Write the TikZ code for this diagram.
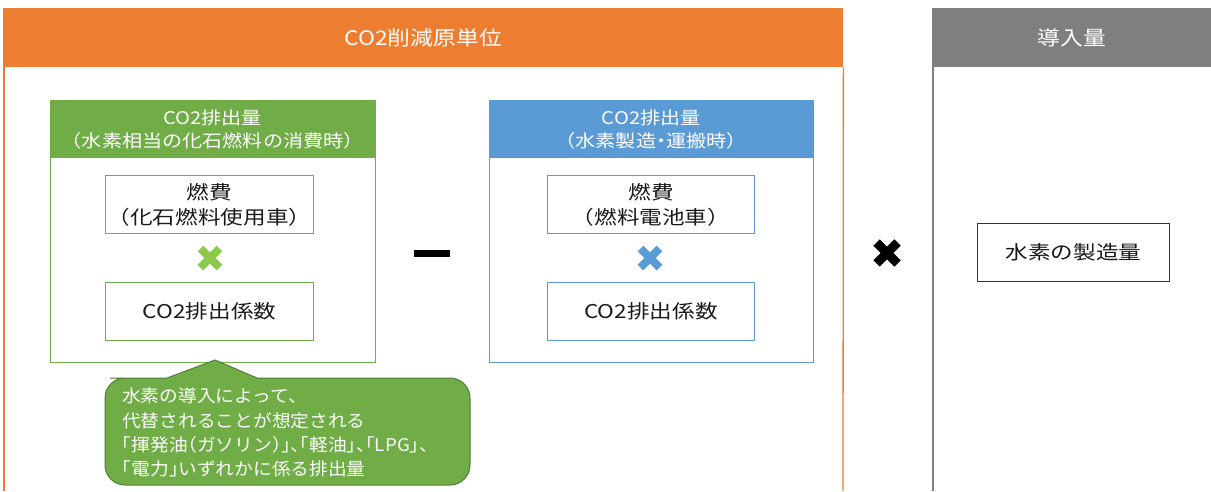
\documentclass[tikz,border=0pt]{standalone}
\usepackage{fontspec}
\usetikzlibrary{calc}
\setmainfont{Noto Sans CJK JP}
\newfontfamily\boxfont[FakeStretch=1.19]{Noto Sans CJK JP}
\newfontfamily\titlefont[FakeStretch=1.14]{Noto Sans CJK JP}
\newfontfamily\hdrfont[FakeStretch=1.15]{Noto Sans CJK JP}
\newfontfamily\notefont[FakeStretch=1.07,RawFeature=+halt]{Noto Sans CJK JP}
\newfontfamily\haltfont[FakeStretch=1.15,RawFeature=+halt]{Noto Sans CJK JP}
\definecolor{corange}{HTML}{ED7D31}
\definecolor{cgreen}{HTML}{70AD47}
\definecolor{clgreen}{HTML}{8CC84B}
\definecolor{cdgreen}{HTML}{507E32}
\definecolor{cblue}{HTML}{5B9BD5}
\definecolor{cgray}{HTML}{7F7F7F}
\definecolor{ctext}{HTML}{1A1A1A}
\tikzset{
  hdr/.style={anchor=north west, inner sep=0pt, text=white, align=center},
  innerbox/.style={draw, line width=1pt, fill=white, inner sep=0pt, anchor=north west, align=center, text=ctext,
     font=\boxfont\fontsize{19}{25}\selectfont},
  timesmark/.style={line width=8pt},
}
\begin{document}
\begin{tikzpicture}[x=1pt,y=-1pt]
\useasboundingbox (0,0) rectangle (1211,491);
% orange column
\node[hdr, fill=corange, minimum width=840pt, minimum height=59pt, font=\titlefont\fontsize{20}{23}\selectfont] (ohead) at (3,8) {CO2削減原単位};
\draw[corange, line width=1.3pt] (ohead.south west) ++(1,0) -- (4,491);
\draw[corange, line width=1.3pt] (ohead.south east) -- (843,491);
% gray column
\node[hdr, fill=cgray, minimum width=279pt, minimum height=59pt, font=\titlefont\fontsize{20}{23}\selectfont] (ghead) at (932,8) {導入量};
\draw[cgray, line width=1.3pt] (933,67) -- (933,491);
% green block
\draw[cgreen, line width=1pt, fill=white] (50,100) rectangle (375,362);
\node[hdr, fill=cgreen, minimum width=325pt, minimum height=58pt, font=\hdrfont\fontsize{17.5}{23}\selectfont] (ghdr) at (50,100) {CO2排出量\\（水素相当の化石燃料の消費時）};
\node[innerbox, draw=cgreen, minimum width=208pt, minimum height=58pt] (g1) at (105,175) {燃費\\（化石燃料使用車）};
\node[innerbox, draw=cgreen, minimum width=208pt, minimum height=58pt] (g2) at (105,282) {CO2排出係数};
\coordinate (gx) at (210,258);
\draw[timesmark, clgreen] ($(gx)+(-9.5,-9.5)$) -- ($(gx)+(9.5,9.5)$) ($(gx)+(-9.5,9.5)$) -- ($(gx)+(9.5,-9.5)$);
% blue block
\draw[cblue, line width=1pt, fill=white] (489,100) rectangle (813,362);
\node[hdr, fill=cblue, minimum width=324pt, minimum height=58pt, font=\hdrfont\fontsize{17.5}{23}\selectfont] (bhdr) at (489,100) {CO2排出量\\（水素製造{\haltfont・}運搬時）};
\node[innerbox, draw=cblue, minimum width=207pt, minimum height=58pt] (b1) at (547,175) {燃費\\（燃料電池車）};
\node[innerbox, draw=cblue, minimum width=207pt, minimum height=58pt] (b2) at (547,282) {CO2排出係数};
\coordinate (bx) at (650,258);
\draw[timesmark, cblue] ($(bx)+(-9.5,-9.5)$) -- ($(bx)+(9.5,9.5)$) ($(bx)+(-9.5,9.5)$) -- ($(bx)+(9.5,-9.5)$);
% minus
\coordinate (minus) at (432,253);
\draw[line width=7pt, black] ($(minus)+(-18,0)$) -- ($(minus)+(18,0)$);
% black times
\coordinate (tx) at (887,253);
\draw[line width=9pt, black] ($(tx)+(-10.5,-10.5)$) -- ($(tx)+(10.5,10.5)$) ($(tx)+(-10.5,10.5)$) -- ($(tx)+(10.5,-10.5)$);
% production box
\node[innerbox, draw=black!80, line width=1.2pt, minimum width=192pt, minimum height=58pt] (prod) at (977,223) {水素の製造量};
% callout
\path[draw=cdgreen, line width=1pt, fill=cgreen]
  (215,360) -- (257,378) -- (300,378) [rounded corners=20pt] -- (470,378) -- (470,485) -- (105,485) -- (105,378) -- (130,378) [sharp corners] -- (167,378) -- cycle;
\node[anchor=north west, inner sep=0pt, text=white, align=left, font=\notefont\fontsize{17.5}{24.3}\selectfont] (note) at (122,388)
  {水素の導入によって、\\代替されることが想定される\\「揮発油（ガソリン）」、「軽油」、「LPG」、\\「電力」いずれかに係る排出量};
\end{tikzpicture}
\end{document}
